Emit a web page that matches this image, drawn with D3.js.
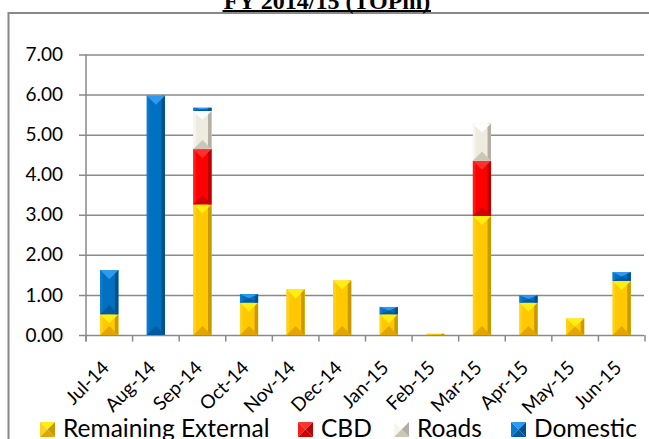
<!DOCTYPE html>
<html><head><meta charset="utf-8">
<script src="https://cdn.jsdelivr.net/npm/d3@7"></script>
<style>html,body{margin:0;padding:0;background:#fff;overflow:hidden}</style>
</head><body>
<svg id="c" width="649" height="439"></svg>
<script>
const categories = ["Jul-14","Aug-14","Sep-14","Oct-14","Nov-14","Dec-14","Jan-15","Feb-15","Mar-15","Apr-15","May-15","Jun-15"];
const remainingExternal = [0.52, 0.00, 3.26, 0.81, 1.14, 1.36, 0.52, 0.03, 2.97, 0.81, 0.41, 1.35];
const cbd              = [0.00, 0.00, 1.38, 0.00, 0.00, 0.00, 0.00, 0.00, 1.38, 0.00, 0.00, 0.00];
const roads            = [0.00, 0.00, 0.95, 0.00, 0.00, 0.00, 0.00, 0.00, 0.93, 0.00, 0.00, 0.00];
const domestic         = [1.10, 5.97, 0.08, 0.21, 0.00, 0.00, 0.18, 0.00, 0.00, 0.18, 0.00, 0.22];
const seriesNames = ["Remaining External","CBD","Roads","Domestic"];
const yTicks = [0,1,2,3,4,5,6,7];
const title = "FY 2014/15 (TOPm)";

const palette = {
  "Remaining External": {base:"#FFC800", top:"#FFEE10", left:"#FFD21A", right:"#C99A00", bottom:"#E3A600"},
  "CBD":                {base:"#FF0000", top:"#FF3030", left:"#FF1A1A", right:"#BF0000", bottom:"#D00000"},
  "Roads":              {base:"#EEECE1", top:"#FFFFFF", left:"#F6F5EE", right:"#B3B0A2", bottom:"#CBC7B6"},
  "Domestic":           {base:"#0070C0", top:"#2F9AF0", left:"#0A7ACC", right:"#00508E", bottom:"#005A9E"}
};

const svg = d3.select("#c");
const table = categories.map((c,i)=>({cat:c,"Remaining External":remainingExternal[i],"CBD":cbd[i],"Roads":roads[i],"Domestic":domestic[i]}));
const stacked = d3.stack().keys(seriesNames)(table);

const x = d3.scaleBand().domain(categories).range([86,645]).padding(0);
const y = d3.scaleLinear().domain([0,7]).range([335,54.5]);
const barW = x.bandwidth()*0.39;

// frame
svg.append("rect").attr("x",8.5).attr("y",13).attr("width",700).attr("height",500)
  .attr("fill","none").attr("stroke","#888").attr("stroke-width",2);

// title
svg.append("text").attr("x",327).attr("y",8.5).attr("text-anchor","middle")
  .attr("font-family","Liberation Serif, Times New Roman, serif").attr("font-weight","bold")
  .attr("font-size",24).attr("fill","#000").text(title);
svg.append("line").attr("x1",222.5).attr("x2",431).attr("y1",11).attr("y2",11).attr("stroke","#000").attr("stroke-width",1.8);

// gridlines + y labels
const yAxis = d3.axisLeft(y).tickValues(yTicks).tickFormat(d3.format(".2f")).tickSize(-(644-79)).tickPadding(16);
const gy = svg.append("g").attr("transform","translate(79,0)").call(yAxis);
gy.select(".domain").remove();
gy.selectAll(".tick line").attr("stroke","#8a8a8a").attr("stroke-width",1.5).attr("x1",0).attr("x2",644-79);
gy.selectAll(".tick text").attr("font-family","Lato, sans-serif").attr("font-size",19).attr("fill","#000").attr("x",-16);

// y axis line
svg.append("line").attr("x1",86).attr("x2",86).attr("y1",54.5).attr("y2",341.5).attr("stroke","#8a8a8a").attr("stroke-width",1.5);
// x axis ticks at category boundaries
const bounds = categories.map(c=>x(c)).concat([x(categories[categories.length-1])+x.bandwidth()]);
svg.append("g").selectAll("line").data(bounds).join("line")
  .attr("x1",d=>d).attr("x2",d=>d).attr("y1",335).attr("y2",341.5).attr("stroke","#8a8a8a").attr("stroke-width",1.5);

// x labels
svg.append("g").selectAll("text").data(categories).join("text")
  .attr("transform",d=>`translate(${x(d)+x.bandwidth()/2+1},${369}) rotate(-45)`)
  .attr("text-anchor","end").attr("font-family","Lato, sans-serif").attr("font-size",19).attr("fill","#000")
  .text(d=>d);

// bars with bevel
function bevel(g, x0, y0, w, h, col){
  if (h <= 0.2) return;
  const x1 = x0+w, y1 = y0+h, xc = x0+w/2;
  g.append("rect").attr("x",x0).attr("y",y0).attr("width",w).attr("height",h).attr("fill",col.base);
  const s = Math.min(2.5, w/4);
  g.append("rect").attr("x",x0).attr("y",y0).attr("width",s).attr("height",h).attr("fill",col.left);
  g.append("rect").attr("x",x1-3.5).attr("y",y0).attr("width",3.5).attr("height",h).attr("fill",col.right);
  const dv = Math.min(w*0.5, h*0.5);
  g.append("polygon").attr("points",`${x0},${y0} ${x1},${y0} ${xc},${y0+dv}`).attr("fill",col.top);
  g.append("polygon").attr("points",`${x0},${y1} ${x1},${y1} ${xc},${y1-dv}`).attr("fill",col.bottom);
}
const gb = svg.append("g");
stacked.forEach(layer=>{
  const col = palette[layer.key];
  layer.forEach(d=>{
    const cat = d.data.cat;
    const x0 = x(cat)+x.bandwidth()/2-barW/2;
    const yt = y(d[1]), yb = y(d[0]);
    bevel(gb, x0, yt, barW, yb-yt, col);
  });
});

// legend
const legendItems = [
  {name:"Remaining External", ix:40, tx:63},
  {name:"CBD", ix:298, tx:321},
  {name:"Roads", ix:394, tx:417},
  {name:"Domestic", ix:511, tx:534}
];
const lg = svg.append("g");
legendItems.forEach(it=>{
  const col = palette[it.name];
  const x0=it.ix, y0=422, s=15, x1=x0+s, y1=y0+s, cx=x0+s/2, cy=y0+s/2;
  lg.append("polygon").attr("points",`${x0},${y0} ${x1},${y0} ${cx},${cy}`).attr("fill",col.top);
  lg.append("polygon").attr("points",`${x0},${y0} ${x0},${y1} ${cx},${cy}`).attr("fill",col.left);
  lg.append("polygon").attr("points",`${x1},${y0} ${x1},${y1} ${cx},${cy}`).attr("fill",col.right);
  lg.append("polygon").attr("points",`${x0},${y1} ${x1},${y1} ${cx},${cy}`).attr("fill",col.bottom);
  lg.append("text").attr("x",it.tx).attr("y",437).attr("font-family","Lato, sans-serif").attr("font-size",24.5).attr("fill","#000").text(it.name);
});
</script>
</body></html>
